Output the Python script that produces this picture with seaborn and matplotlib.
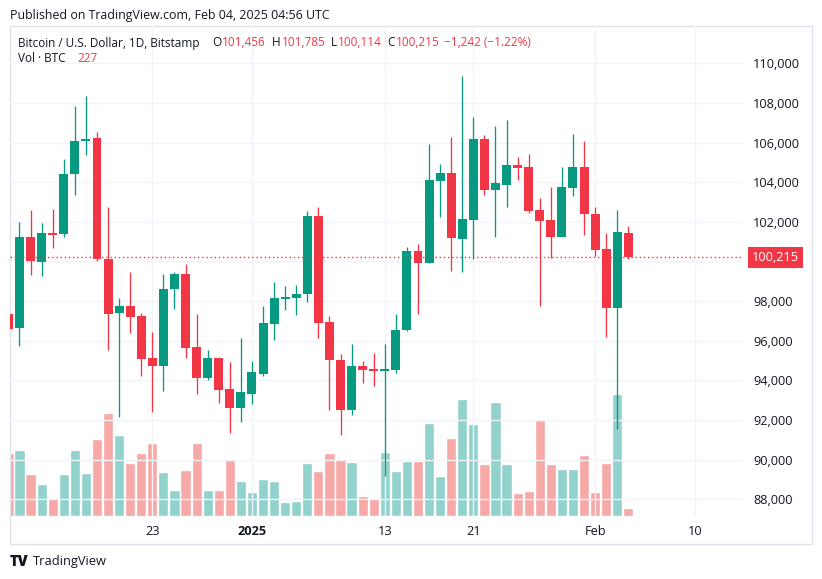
import pandas as pd
import matplotlib
matplotlib.use("Agg")
import matplotlib.pyplot as plt
from matplotlib.patches import Rectangle
import seaborn as sns

# Daily candles, Bitstamp BTC/USD, Dec 10 2024 .. Feb 04 2025
dates = pd.date_range("2024-12-10", "2025-02-04", freq="D")

opens = [97350, 96660, 101250, 99980, 101440, 101390, 104430, 106100, 106230, 100120,
         97420, 97750, 97240, 95130, 94740, 98610, 99370, 95680, 94130, 95130,
         93560, 92620, 93310, 94320, 96840, 98110, 98160, 98360, 102300, 96940,
         95030, 92520, 94730, 94580, 94480, 94530, 96540, 100530, 99940, 104080,
         104460, 101130, 102090, 106180, 103620, 103860, 104870, 104770, 102600, 102090,
         101250, 103720, 104770, 102390, 100630, 97660, 101456]
highs = [98300, 101990, 102600, 101940, 102650, 105170, 107850, 108350, 106530, 102750,
         98160, 99470, 97400, 96440, 99360, 99470, 99870, 97350, 95530, 95180,
         94920, 96130, 94980, 97750, 98960, 98760, 98810, 102550, 102750, 97250,
         95330, 95840, 94980, 95380, 95840, 97350, 100730, 100880, 105930, 104920,
         106280, 109360, 107290, 106380, 106840, 107140, 105270, 105420, 103200, 103760,
         104770, 106430, 106080, 102750, 101430, 102600, 101785]
lows = [95700, 95740, 99330, 99270, 100700, 101250, 103350, 105370, 100020, 95550,
        92150, 96400, 94240, 92420, 93480, 97600, 95140, 93330, 94030, 92860,
        91350, 91900, 92810, 94220, 96030, 97550, 97300, 97950, 96130, 92520,
        91250, 92260, 93870, 93720, 89170, 94370, 96490, 97350, 99940, 102260,
        99540, 99480, 100120, 103370, 101250, 102760, 104130, 102460, 97770, 100180,
        101250, 103320, 101350, 100290, 96210, 91560, 100114]
closes = [96600, 101250, 100020, 101440, 101350, 104400, 106080, 106180, 100120, 97350,
          97750, 97210, 95100, 94740, 98610, 99370, 95650, 94130, 95130, 93530,
          92620, 93410, 94420, 96890, 98160, 98200, 98360, 102300, 96890, 95030,
          92520, 94730, 94530, 94480, 94530, 96540, 100530, 99920, 104110, 104460,
          101200, 102140, 106180, 103620, 103960, 104870, 104730, 102560, 102060, 101250,
          103760, 104770, 102410, 100600, 97660, 101480, 100215]
volumes = [1760, 1840, 1170, 890, 500, 1170, 1840, 1200, 2150, 2880,
           2260, 1480, 1760, 2040, 1220, 720, 1280, 2040, 720, 720,
           1560, 970, 660, 1030, 970, 380, 410, 1480, 1250, 1760,
           1590, 1500, 550, 500, 1780, 1250, 1530, 1530, 2600, 1120,
           2180, 3280, 2580, 1460, 3190, 1460, 640, 700, 2690, 1460,
           1320, 1320, 1710, 670, 1480, 3420, 227]

tick_dates = ["2024-12-23", "2025-01-01", "2025-01-13", "2025-01-21", "2025-02-01", "2025-02-10"]
tick_labels = ["23", "2025", "13", "21", "Feb", "10"]
price_ticks = list(range(88000, 110001, 2000))
last_price = 100215

UP, DOWN = "#089981", "#f23645"
UP_VOL, DOWN_VOL = "#92d2cc", "#f7a9a8"
TXT = "#131722"
GRID = "#f0f3fa"

df = pd.DataFrame({"date": dates, "open": opens, "high": highs, "low": lows,
                   "close": closes, "volume": volumes})
ref = pd.Timestamp("2024-12-11")
df["day"] = (df["date"] - ref).dt.days
df["dir"] = ["up" if c >= o else "down" for o, c in zip(df["open"], df["close"])]
df["color"] = df["dir"].map({"up": UP, "down": DOWN})

sns.set_theme(style="white")
plt.rcParams["font.family"] = ["Open Sans", "DejaVu Sans"]

W, H = 822, 579
fig = plt.figure(figsize=(W / 100, H / 100), dpi=100)


def fx(px):
    return px / W


def fy(py):
    return 1 - py / H


rect = [fx(10), fy(516), fx(743) - fx(10), fy(26) - fy(516)]

# volume pane (underneath)
vax = fig.add_axes(rect, zorder=1)
sns.barplot(data=df, x="day", y="volume", hue="dir", native_scale=True,
            palette={"up": UP_VOL, "down": DOWN_VOL}, width=0.92, dodge=False,
            saturation=1, errorbar=None, legend=False, ax=vax)
vax.set_xlim(-0.858, 65.36)
vax.set_ylim(0, 13720)
vax.axis("off")

# price pane
ax = fig.add_axes(rect, zorder=2)
ax.patch.set_alpha(0)
ax.set_axisbelow(True)
ax.grid(True, color=GRID, linewidth=1)

ax.vlines(df["day"], df["low"], df["high"], colors=df["color"], linewidth=0.95, zorder=3)
body_bottom = df[["open", "close"]].min(axis=1)
body_height = (df["close"] - df["open"]).abs().clip(lower=70)
ax.bar(df["day"], body_height, bottom=body_bottom, width=0.81, color=df["color"],
       linewidth=0, zorder=4)

ax.axhline(last_price, color=DOWN, linestyle=(0, (1, 2)), linewidth=1, zorder=5)

ax.set_xlim(-0.858, 65.36)
ax.set_ylim(87157, 111882)

tick_pos = [(pd.Timestamp(d) - ref).days for d in tick_dates]
ax.set_xticks(tick_pos)
ax.set_xticklabels(tick_labels)
ax.get_xticklabels()[1].set_fontweight("bold")
ax.yaxis.tick_right()
ax.set_yticks(price_ticks)
# the 100,000 label sits under the last-price tag, so it is left blank
ax.set_yticklabels(["" if p == 100000 else f"{p:,}" for p in price_ticks])
ax.tick_params(axis="x", length=0, pad=6.5, labelsize=9.2, colors=TXT)
ax.tick_params(axis="y", length=0, pad=7.2, labelsize=9.2, colors=TXT)
for s in ax.spines.values():
    s.set_visible(False)

# last price tag
ax.text(1.0125, last_price, f"{last_price:,}", transform=ax.get_yaxis_transform(),
        ha="left", va="center", fontsize=9.2, color="white", zorder=6,
        bbox=dict(boxstyle="square,pad=0.32", facecolor=DOWN, edgecolor="none"))

# outer frame
fig.patches.append(Rectangle((fx(10), fy(544)), fx(812) - fx(10), fy(26) - fy(544),
                             transform=fig.transFigure, fill=False,
                             edgecolor="#e0e3eb", linewidth=1))

# header
fig.text(fx(10), fy(15), "Published on TradingView.com, Feb 04, 2025 04:56 UTC",
         ha="left", va="center", fontsize=8.9, color=TXT)

legend_parts = [
    (18, "Bitcoin / U.S. Dollar, 1D, Bitstamp", TXT),
    (212, "O", TXT), (222, "101,456", DOWN),
    (272, "H", TXT), (282, "101,785", DOWN),
    (331, "L", TXT), (338, "100,114", DOWN),
    (387, "C", TXT), (396, "100,215", DOWN),
    (444, "\u22121,242 (\u22121.22%)", DOWN),
]
for x, s, c in legend_parts:
    fig.text(fx(x), fy(43), s, ha="left", va="center", fontsize=8.5, color=c)
fig.text(fx(18), fy(59), "Vol \u00b7 BTC", ha="left", va="center", fontsize=8.5, color=TXT)
fig.text(fx(77), fy(59), "227", ha="left", va="center", fontsize=8.5, color=DOWN)

# footer logo
fig.text(fx(10), fy(562), "TV", ha="left", va="center", fontsize=10.5,
         fontweight="heavy", color=TXT)
fig.text(fx(33), fy(562), "TradingView", ha="left", va="center", fontsize=9.3, color=TXT)

fig.savefig("out.png", dpi=100)
